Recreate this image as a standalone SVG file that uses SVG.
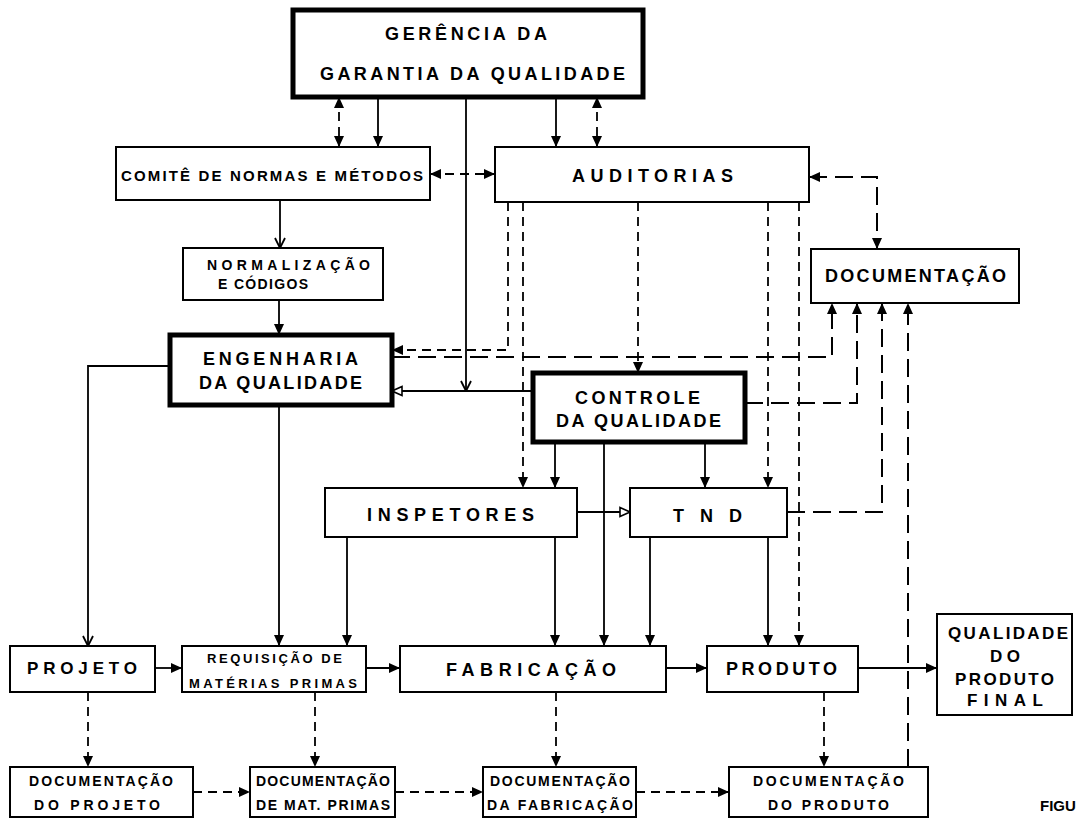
<svg xmlns="http://www.w3.org/2000/svg" width="1078" height="819" viewBox="0 0 1078 819">
<style>
.box{fill:#fff;stroke:#000;stroke-width:2}
.thick{fill:#fff;stroke:#000;stroke-width:5}
.t{font-family:"Liberation Sans",Arial,sans-serif;font-size:18px;font-weight:bold;fill:#000}
.s{stroke:#000;stroke-width:1.8;fill:none}
.d{stroke:#000;stroke-width:1.8;fill:none;stroke-dasharray:9 6}
.ld{stroke:#000;stroke-width:2;fill:none;stroke-dasharray:18 8}
</style>
<defs>
<marker id="a" markerUnits="userSpaceOnUse" markerWidth="12" markerHeight="12" viewBox="0 0 12 12" refX="11" refY="6" orient="auto-start-reverse"><path d="M0,1 L11,6 L0,11 Z" fill="#000"/></marker>
<marker id="o" markerUnits="userSpaceOnUse" markerWidth="12" markerHeight="12" viewBox="0 0 12 12" refX="11" refY="6" orient="auto"><path d="M1,1.5 L11,6 L1,10.5 Z" fill="#fff" stroke="#000" stroke-width="1.6"/></marker>
<marker id="v" markerUnits="userSpaceOnUse" markerWidth="12" markerHeight="12" viewBox="0 0 12 12" refX="11" refY="6" orient="auto"><path d="M1,1 L11,6 L1,11" fill="none" stroke="#000" stroke-width="1.8"/></marker>
</defs>

<g id="connectors">
<path class="d" d="M339,97 V147" marker-start="url(#a)" marker-end="url(#a)"/>
<path class="s" d="M378,97 V147" marker-end="url(#a)"/>
<path class="s" d="M466,97 V391" marker-end="url(#v)"/>
<path class="s" d="M556,97 V147" marker-end="url(#a)"/>
<path class="d" d="M597,97 V147" marker-start="url(#a)" marker-end="url(#a)"/>
<path class="d" d="M430,174 H495" marker-start="url(#a)" marker-end="url(#a)"/>
<path class="ld" d="M809,177 H877 V249" marker-start="url(#a)" marker-end="url(#a)"/>
<path class="s" d="M280,200 V248" marker-end="url(#v)"/>
<path class="s" d="M279,300 V335" marker-end="url(#a)"/>
<path class="d" d="M508,202 V350 H392" marker-end="url(#a)"/>
<path class="ld" d="M392,357 H832 V303" marker-end="url(#a)"/>
<path class="s" d="M533,391 H392" marker-end="url(#o)"/>
<path class="d" d="M523,202 V488" marker-end="url(#a)"/>
<path class="d" d="M638,202 V373" marker-end="url(#a)"/>
<path class="d" d="M768,202 V488" marker-end="url(#a)"/>
<path class="d" d="M799,202 V646" marker-end="url(#a)"/>
<path class="ld" d="M745,403 H857 V303" marker-end="url(#a)"/>
<path class="ld" d="M787,512 H882 V303" marker-end="url(#a)"/>
<path class="ld" d="M908,767 V303" marker-end="url(#a)"/>
<path class="s" d="M555,442 V488" marker-end="url(#a)"/>
<path class="s" d="M604,442 V646" marker-end="url(#a)"/>
<path class="s" d="M705,442 V488" marker-end="url(#a)"/>
<path class="s" d="M577,512 H630" marker-end="url(#o)"/>
<path class="s" d="M347,537 V646" marker-end="url(#a)"/>
<path class="s" d="M555,537 V646" marker-end="url(#a)"/>
<path class="s" d="M650,537 V646" marker-end="url(#a)"/>
<path class="s" d="M768,537 V646" marker-end="url(#a)"/>
<path class="s" d="M170,366 H88 V646" marker-end="url(#v)"/>
<path class="s" d="M279,405 V646" marker-end="url(#a)"/>
<path class="s" d="M155,668 H182" marker-end="url(#a)"/>
<path class="s" d="M366,668 H400" marker-end="url(#a)"/>
<path class="s" d="M666,668 H707" marker-end="url(#a)"/>
<path class="s" d="M858,668 H937" marker-end="url(#a)"/>
<path class="d" d="M88,692 V767" marker-end="url(#a)"/>
<path class="d" d="M315,692 V767" marker-end="url(#a)"/>
<path class="d" d="M556,692 V767" marker-end="url(#a)"/>
<path class="d" d="M824,692 V767" marker-end="url(#a)"/>
<path class="d" d="M193,792 H250" marker-end="url(#a)"/>
<path class="d" d="M395,792 H483" marker-end="url(#a)"/>
<path class="d" d="M636,792 H729" marker-end="url(#a)"/>
</g>

<g id="gerencia"><rect class="thick" x="293" y="10" width="350" height="87"/>
<text class="t" x="385" y="40" textLength="162" lengthAdjust="spacing">GERÊNCIA DA</text>
<text class="t" x="320" y="80" textLength="305" lengthAdjust="spacing">GARANTIA DA QUALIDADE</text></g>

<g id="comite"><rect class="box" x="116" y="147" width="314" height="53"/>
<text class="t" style="font-size:15px" x="121" y="181" textLength="302" lengthAdjust="spacing">COMITÊ DE NORMAS E MÉTODOS</text></g>

<g id="auditorias"><rect class="box" x="495" y="147" width="314" height="55"/>
<text class="t" x="572" y="182" textLength="161" lengthAdjust="spacing">AUDITORIAS</text></g>

<g id="documentacao"><rect class="box" x="811" y="249" width="208" height="54"/>
<text class="t" x="825" y="282" textLength="181" lengthAdjust="spacing">DOCUMENTAÇÃO</text></g>

<g id="normalizacao"><rect class="box" x="183" y="248" width="200" height="52"/>
<text class="t" style="font-size:14px" x="207" y="270" textLength="163" lengthAdjust="spacing">NORMALIZAÇÃO</text>
<text class="t" style="font-size:14px" x="218" y="289" textLength="90" lengthAdjust="spacing">E CÓDIGOS</text></g>

<g id="engenharia"><rect class="thick" x="170" y="335" width="222" height="70"/>
<text class="t" x="203" y="365" textLength="155" lengthAdjust="spacing">ENGENHARIA</text>
<text class="t" x="199" y="389" textLength="163" lengthAdjust="spacing">DA QUALIDADE</text></g>

<g id="controle"><rect class="thick" x="533" y="373" width="212" height="69"/>
<text class="t" x="575" y="404" textLength="125" lengthAdjust="spacing">CONTROLE</text>
<text class="t" x="556" y="427" textLength="165" lengthAdjust="spacing">DA QUALIDADE</text></g>

<g id="inspetores"><rect class="box" x="325" y="488" width="252" height="49"/>
<text class="t" x="367" y="521" textLength="167" lengthAdjust="spacing">INSPETORES</text></g>

<g id="tnd"><rect class="box" x="630" y="488" width="157" height="49"/>
<text class="t" x="673" y="522" textLength="69" lengthAdjust="spacing">T N D</text></g>

<g id="projeto"><rect class="box" x="10" y="646" width="145" height="46"/>
<text class="t" style="font-size:17px" x="27" y="674" textLength="110" lengthAdjust="spacing">PROJETO</text></g>

<g id="requisicao"><rect class="box" x="182" y="646" width="184" height="46"/>
<text class="t" style="font-size:13px" x="207" y="663" textLength="135" lengthAdjust="spacing">REQUISIÇÃO DE</text>
<text class="t" style="font-size:13px" x="189" y="688" textLength="168" lengthAdjust="spacing">MATÉRIAS PRIMAS</text></g>

<g id="fabricacao"><rect class="box" x="400" y="646" width="266" height="46"/>
<text class="t" x="446" y="676" textLength="170" lengthAdjust="spacing">FABRICAÇÃO</text></g>

<g id="produto"><rect class="box" x="707" y="646" width="151" height="46"/>
<text class="t" x="726" y="675" textLength="111" lengthAdjust="spacing">PRODUTO</text></g>

<g id="qualidade-final"><rect class="box" x="937" y="614" width="135" height="101"/>
<text class="t" style="font-size:17px" x="948" y="639" textLength="120" lengthAdjust="spacing">QUALIDADE</text>
<text class="t" style="font-size:17px" x="990" y="662" textLength="30" lengthAdjust="spacing">DO</text>
<text class="t" style="font-size:17px" x="955" y="685" textLength="99" lengthAdjust="spacing">PRODUTO</text>
<text class="t" style="font-size:17px" x="967" y="706" textLength="76" lengthAdjust="spacing">FINAL</text></g>

<g id="doc-projeto"><rect class="box" x="10" y="767" width="183" height="50"/>
<text class="t" style="font-size:14px" x="29" y="786" textLength="144" lengthAdjust="spacing">DOCUMENTAÇÃO</text>
<text class="t" style="font-size:14px" x="34" y="810" textLength="126" lengthAdjust="spacing">DO PROJETO</text></g>

<g id="doc-mat"><rect class="box" x="250" y="767" width="145" height="50"/>
<text class="t" style="font-size:14px" x="256" y="786" textLength="134" lengthAdjust="spacing">DOCUMENTAÇÃO</text>
<text class="t" style="font-size:14px" x="256" y="810" textLength="134" lengthAdjust="spacing">DE MAT. PRIMAS</text></g>

<g id="doc-fab"><rect class="box" x="483" y="767" width="153" height="50"/>
<text class="t" style="font-size:14px" x="490" y="786" textLength="140" lengthAdjust="spacing">DOCUMENTAÇÃO</text>
<text class="t" style="font-size:14px" x="487" y="810" textLength="146" lengthAdjust="spacing">DA FABRICAÇÃO</text></g>

<g id="doc-produto"><rect class="box" x="729" y="767" width="199" height="50"/>
<text class="t" style="font-size:14px" x="753" y="786" textLength="151" lengthAdjust="spacing">DOCUMENTAÇÃO</text>
<text class="t" style="font-size:14px" x="768" y="810" textLength="121" lengthAdjust="spacing">DO PRODUTO</text></g>

<text class="t" style="font-size:15px" x="1040" y="811">FIGU</text>
</svg>
